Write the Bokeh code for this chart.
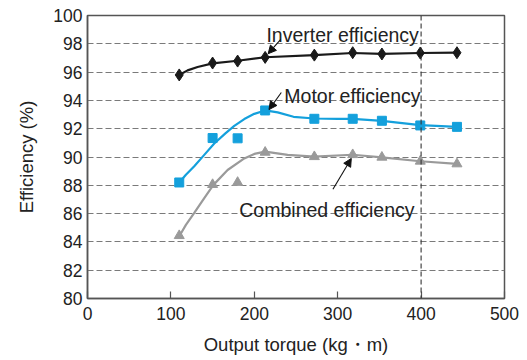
from bokeh.plotting import figure
from bokeh.models import Label, Arrow, NormalHead, Span, FixedTicker, Range1d
from bokeh.embed import file_html
from bokeh.resources import INLINE

# ---- data ----
torque = [110, 150, 180, 213, 272, 318, 353, 399, 443]
inverter_eff = [95.8, 96.64, 96.78, 97.04, 97.2, 97.37, 97.28, 97.35, 97.37]
motor_eff = [88.2, 91.34, 91.32, 93.29, 92.7, 92.7, 92.56, 92.23, 92.13]
combined_eff = [84.44, 88.05, 88.2, 90.33, 90.02, 90.16, 89.98, 89.7, 89.51]

# fitted curves, as drawn in the picture
inverter_fit_x = [110, 120, 132, 150, 180, 213, 272, 318, 353, 399, 443]
inverter_fit_y = [95.8, 96.12, 96.36, 96.62, 96.8, 97.05, 97.2, 97.35, 97.29, 97.35, 97.37]
motor_fit_x = [110, 118, 128, 140, 152, 165, 176, 188, 200, 213, 228, 247, 272, 300, 318, 353, 399, 443]
motor_fit_y = [88.2, 88.75, 89.35, 90.15, 90.95, 91.65, 92.2, 92.68, 93.05, 93.29, 93.15, 92.84, 92.72, 92.7, 92.7, 92.55, 92.25, 92.13]
combined_fit_x = [110, 118, 128, 140, 151, 168, 188, 200, 213, 240, 272, 318, 353, 399, 443]
combined_fit_y = [84.4, 85.2, 86.05, 87.1, 88.03, 89.08, 89.9, 90.22, 90.38, 90.15, 90.02, 90.16, 89.98, 89.7, 89.51]

x_ticks = [0, 100, 200, 300, 400, 500]
y_ticks = [80, 82, 84, 86, 88, 90, 92, 94, 96, 98, 100]

FONT = "Liberation Sans"
BLACK = "#1a1a1a"
BLUE = "#14a0dc"
GREY = "#9a9a9a"

p = figure(width=527, height=360, output_backend="svg", toolbar_location=None,
           x_range=Range1d(0, 500), y_range=Range1d(80, 100),
           min_border_left=87, min_border_right=23, min_border_top=15, min_border_bottom=62)
p.background_fill_color = "white"
p.border_fill_color = "white"
p.outline_line_color = "#555555"
p.outline_line_width = 1.5

p.xgrid.visible = False
p.ygrid.ticker = FixedTicker(ticks=y_ticks)
p.ygrid.grid_line_color = "#7a7a7a"
p.ygrid.grid_line_dash = "6 3"
p.ygrid.grid_line_width = 1.1

p.xaxis.ticker = FixedTicker(ticks=x_ticks)
p.yaxis.ticker = FixedTicker(ticks=y_ticks)
for ax in (p.xaxis[0], p.yaxis[0]):
    ax.axis_line_color = "#555555"
    ax.axis_line_width = 1.5
    ax.major_tick_line_color = "#555555"
    ax.major_tick_line_width = 1.2
    ax.minor_tick_line_color = None
    ax.major_label_text_font = FONT
    ax.major_label_text_font_size = "17.5px"
    ax.major_label_text_color = "#222222"
    ax.axis_label_text_font = FONT
    ax.axis_label_text_font_size = "18.5px"
    ax.axis_label_text_font_style = "normal"
    ax.axis_label_text_color = "#222222"

p.xaxis.major_tick_in = 7
p.xaxis.major_tick_out = 0
p.xaxis.major_label_standoff = 8
p.xaxis.axis_label = "Output torque (kg・m)"
p.xaxis.axis_label_standoff = 11
p.yaxis.major_tick_in = 0
p.yaxis.major_tick_out = 0
p.yaxis.major_label_standoff = 5
p.yaxis.axis_label = "Efficiency (%)"
p.yaxis.axis_label_standoff = 13

p.add_layout(Span(location=400, dimension="height", line_color="#333333",
                  line_dash="5 3", line_width=1.1))

# curves
p.line(inverter_fit_x, inverter_fit_y, line_color=BLACK, line_width=2.2)
p.line(motor_fit_x, motor_fit_y, line_color=BLUE, line_width=2.2)
p.line(combined_fit_x, combined_fit_y, line_color=GREY, line_width=2.2)

# markers
p.scatter(torque, inverter_eff, marker="diamond", size=12, fill_color=BLACK, line_color=BLACK)
p.scatter(torque, motor_eff, marker="square", size=9, fill_color=BLUE, line_color=BLUE)
p.scatter(torque, combined_eff, marker="triangle", size=10, fill_color=GREY, line_color=GREY)

# annotations
def note(text, x, y):
    p.add_layout(Label(x=x, y=y, text=text, text_font=FONT, text_font_size="19.5px",
                       text_color="#222222", text_baseline="alphabetic", text_align="left"))

def pointer(x0, y0, x1, y1):
    p.add_layout(Arrow(x_start=x0, y_start=y0, x_end=x1, y_end=y1, line_width=1.1,
                       line_color="#111111",
                       end=NormalHead(size=8, fill_color="#111111", line_color="#111111")))

note("Inverter efficiency", 214.5, 98.63)
pointer(231.7, 98.31, 216.6, 97.3)
note("Motor efficiency", 236.0, 94.3)
pointer(232.4, 94.56, 217.6, 93.35)
note("Combined efficiency", 182.0, 86.27)
pointer(294.3, 87.72, 316.3, 89.9)

open("out.html", "w").write(file_html(p, INLINE))
